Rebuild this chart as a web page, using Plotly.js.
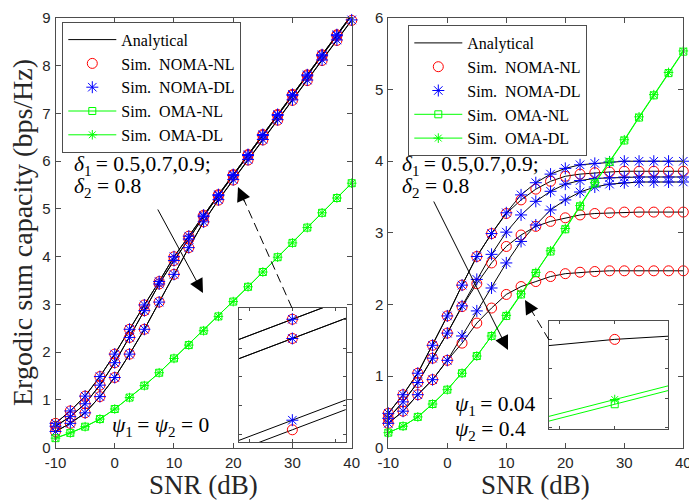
<!DOCTYPE html>
<html>
<head>
<meta charset="utf-8">
<script src="https://cdn.plot.ly/plotly-3.0.1.min.js"></script>
<style>
  html, body { margin: 0; padding: 0; background: #fff; }
  #chart { width: 689px; height: 501px; }
</style>
</head>
<body>
<div id="chart"></div>
<script>
const W = 689, H = 501;

// SNR grid (dB)
const snr = [-10, -7.5, -5, -2.5, 0, 2.5, 5, 7.5, 10, 12.5, 15, 17.5, 20, 22.5, 25, 27.5, 30, 32.5, 35, 37.5, 40];

// Ideal hardware (psi1 = psi2 = 0): ergodic sum capacity, delta2 = 0.8
const idealNL_d05 = [0.51, 0.77, 1.08, 1.49, 1.96, 2.48, 2.99, 3.48, 4.00, 4.43, 4.87, 5.30, 5.72, 6.14, 6.56, 6.98, 7.40, 7.81, 8.23, 8.65, 9.07];
const idealDL_d05 = [0.51, 0.77, 1.08, 1.49, 1.96, 2.48, 2.99, 3.48, 4.00, 4.43, 4.87, 5.30, 5.72, 6.14, 6.56, 6.98, 7.40, 7.81, 8.23, 8.65, 9.07];
const idealNL_d07 = [0.45, 0.65, 0.92, 1.31, 1.78, 2.31, 2.87, 3.43, 3.92, 4.37, 4.84, 5.28, 5.70, 6.12, 6.54, 6.96, 7.38, 7.79, 8.21, 8.63, 9.05];
const idealDL_d07 = [0.45, 0.65, 0.92, 1.31, 1.78, 2.31, 2.87, 3.43, 3.92, 4.37, 4.84, 5.28, 5.70, 6.12, 6.54, 6.96, 7.38, 7.79, 8.21, 8.63, 9.05];
const idealNL_d09 = [0.34, 0.51, 0.73, 1.07, 1.47, 1.96, 2.48, 3.05, 3.63, 4.19, 4.73, 5.185, 5.605, 6.025, 6.445, 6.86, 7.275, 7.69, 8.11, 8.53, 8.95];
const idealDL_d09 = [0.34, 0.51, 0.73, 1.07, 1.47, 1.96, 2.48, 3.05, 3.63, 4.19, 4.73, 5.195, 5.615, 6.035, 6.455, 6.87, 7.285, 7.70, 8.12, 8.54, 8.96];
const idealOmaNL  = [0.20, 0.31, 0.44, 0.60, 0.81, 1.05, 1.30, 1.57, 1.87, 2.15, 2.45, 2.75, 3.06, 3.37, 3.68, 3.99, 4.29, 4.61, 4.92, 5.23, 5.54];
const idealOmaDL  = [0.20, 0.31, 0.44, 0.60, 0.81, 1.05, 1.30, 1.57, 1.87, 2.15, 2.45, 2.75, 3.06, 3.37, 3.68, 3.99, 4.29, 4.61, 4.92, 5.23, 5.54];

// Impaired hardware (psi1 = 0.04, psi2 = 0.4)
const hwiNL_d05 = [0.48, 0.74, 1.04, 1.43, 1.84, 2.27, 2.67, 2.99, 3.27, 3.46, 3.61, 3.72, 3.79, 3.82, 3.84, 3.85, 3.86, 3.86, 3.86, 3.86, 3.86];
const hwiDL_d05 = [0.48, 0.74, 1.04, 1.43, 1.84, 2.27, 2.67, 2.99, 3.28, 3.53, 3.70, 3.82, 3.90, 3.95, 3.97, 3.99, 4.00, 4.00, 4.00, 4.00, 4.00];
const hwiNL_d07 = [0.41, 0.64, 0.91, 1.25, 1.60, 1.97, 2.29, 2.58, 2.81, 2.97, 3.09, 3.16, 3.21, 3.25, 3.27, 3.28, 3.29, 3.29, 3.29, 3.29, 3.29];
const hwiDL_d07 = [0.41, 0.64, 0.91, 1.25, 1.60, 1.98, 2.35, 2.70, 3.01, 3.25, 3.44, 3.58, 3.68, 3.73, 3.76, 3.77, 3.78, 3.78, 3.78, 3.78, 3.78];
const hwiNL_d09 = [0.34, 0.51, 0.74, 0.95, 1.22, 1.46, 1.74, 1.95, 2.14, 2.25, 2.32, 2.39, 2.43, 2.45, 2.46, 2.47, 2.47, 2.47, 2.47, 2.47, 2.47];
const hwiDL_d09 = [0.34, 0.51, 0.74, 0.95, 1.22, 1.56, 1.91, 2.23, 2.58, 2.88, 3.11, 3.32, 3.46, 3.57, 3.64, 3.68, 3.70, 3.71, 3.71, 3.71, 3.71];
const hwiOmaNL  = [0.21, 0.30, 0.43, 0.61, 0.81, 1.04, 1.28, 1.56, 1.84, 2.14, 2.44, 2.74, 3.05, 3.37, 3.69, 3.99, 4.29, 4.61, 4.92, 5.23, 5.53];
const hwiOmaDL  = [0.21, 0.30, 0.43, 0.61, 0.81, 1.04, 1.28, 1.56, 1.848, 2.148, 2.448, 2.75, 3.06, 3.38, 3.70, 4.00, 4.30, 4.62, 4.93, 5.24, 5.54];

// Tick labels
const xTickVals = [-10, 0, 10, 20, 30, 40];
const xTickText = ['-10', '0', '10', '20', '30', '40'];
const yTickValsL = [0, 1, 2, 3, 4, 5, 6, 7, 8, 9];
const yTickValsR = [0, 1, 2, 3, 4, 5, 6];

// Legend labels
const legendNames = ['Analytical', 'Sim.\u2002NOMA-NL', 'Sim.\u2002NOMA-DL', 'Sim.\u2002OMA-NL', 'Sim.\u2002OMA-DL'];

const RED = '#ff0000', BLUE = '#0000ff', GREEN = '#00ff00', BLACK = '#000000';
const AXC = '#4d4d4d', TXT = '#262626';
const SERIF = 'Liberation Serif, Times New Roman, serif';
const SANS = 'Liberation Sans, Arial, sans-serif';

function panelTraces(set, xa, ya, legendId, inLegend) {
  const out = [];
  const noma = [set.nl05, set.dl05, set.nl07, set.dl07, set.nl09, set.dl09];
  noma.forEach((y, i) => out.push({
    x: snr, y: y, xaxis: xa, yaxis: ya, mode: 'lines', type: 'scatter',
    line: { color: BLACK, width: 1 }, name: legendNames[0], legend: legendId,
    showlegend: inLegend && i === 0, hoverinfo: 'skip'
  }));
  [set.nl05, set.nl07, set.nl09].forEach((y, i) => out.push({
    x: snr, y: y, xaxis: xa, yaxis: ya, mode: 'markers', type: 'scatter', cliponaxis: !inLegend,
    marker: { symbol: 'circle-open', size: 10, color: RED, line: { width: 1, color: RED } },
    name: legendNames[1], legend: legendId, showlegend: inLegend && i === 0, hoverinfo: 'skip'
  }));
  [set.dl05, set.dl07, set.dl09].forEach((y, i) => out.push({
    x: snr, y: y, xaxis: xa, yaxis: ya, mode: 'markers', type: 'scatter', cliponaxis: !inLegend,
    marker: { symbol: 'asterisk-open', size: 10, color: BLUE, line: { width: 1, color: BLUE } },
    name: legendNames[2], legend: legendId, showlegend: inLegend && i === 0, hoverinfo: 'skip'
  }));
  out.push({
    x: snr, y: set.omaNL, xaxis: xa, yaxis: ya, mode: 'lines+markers', type: 'scatter', cliponaxis: !inLegend,
    line: { color: GREEN, width: 1 },
    marker: { symbol: 'square-open', size: 7, color: GREEN, line: { width: 1, color: GREEN } },
    name: legendNames[3], legend: legendId, showlegend: inLegend, hoverinfo: 'skip'
  });
  out.push({
    x: snr, y: set.omaDL, xaxis: xa, yaxis: ya, mode: 'lines+markers', type: 'scatter', cliponaxis: !inLegend,
    line: { color: GREEN, width: 1 },
    marker: { symbol: 'asterisk-open', size: 8, color: GREEN, line: { width: 1, color: GREEN } },
    name: legendNames[4], legend: legendId, showlegend: inLegend, hoverinfo: 'skip'
  });
  return out;
}

const ideal = { nl05: idealNL_d05, dl05: idealDL_d05, nl07: idealNL_d07, dl07: idealDL_d07,
                nl09: idealNL_d09, dl09: idealDL_d09, omaNL: idealOmaNL, omaDL: idealOmaDL };
const hwi = { nl05: hwiNL_d05, dl05: hwiDL_d05, nl07: hwiNL_d07, dl07: hwiDL_d07,
              nl09: hwiNL_d09, dl09: hwiDL_d09, omaNL: hwiOmaNL, omaDL: hwiOmaDL };

const data = [].concat(
  panelTraces(ideal, 'x', 'y', 'legend', true),
  panelTraces(hwi, 'x2', 'y2', 'legend2', true),
  panelTraces(ideal, 'x3', 'y3', 'legend', false),
  panelTraces(hwi, 'x4', 'y4', 'legend2', false)
);

// pixel -> paper helpers
const px = v => v / W;
const py = v => 1 - v / H;

const baseAxis = {
  showline: true, linecolor: AXC, linewidth: 1, mirror: 'ticks',
  ticks: 'inside', ticklen: 5, tickcolor: AXC, tickwidth: 1,
  showgrid: false, zeroline: false, fixedrange: true, ticklabeloverflow: 'allow',
  tickfont: { family: SANS, size: 15, color: TXT }
};
const insetAxis = Object.assign({}, baseAxis, { showticklabels: false, ticklen: 3 });
const mainX = Object.assign({}, baseAxis, { range: [-10, 40], tickvals: xTickVals, ticktext: xTickText, ticklabelstandoff: 1 });
const mainYAxis = Object.assign({}, baseAxis, { ticklabelstandoff: 1 });

const mainY = [py(447.7), py(18)];

const legendStyle = {
  xanchor: 'left', yanchor: 'top',
  bgcolor: '#ffffff', bordercolor: AXC, borderwidth: 1,
  font: { family: SERIF, size: 16, color: '#000' }, traceorder: 'normal', itemwidth: 48
};

const layout = {
  width: W, height: H,
  margin: { l: 0, r: 0, t: 0, b: 0 },
  paper_bgcolor: '#ffffff', plot_bgcolor: '#ffffff',
  showlegend: true,
  xaxis: Object.assign({}, mainX, { domain: [px(55.5), px(351.7)], anchor: 'y' }),
  yaxis: Object.assign({}, mainYAxis, { domain: mainY, range: [0, 9], tickvals: yTickValsL, anchor: 'x' }),
  xaxis2: Object.assign({}, mainX, { domain: [px(388.3), px(683.3)], anchor: 'y2' }),
  yaxis2: Object.assign({}, mainYAxis, { domain: mainY, range: [0, 6], tickvals: yTickValsR, anchor: 'x2' }),
  xaxis3: Object.assign({}, insetAxis, { domain: [px(239), px(345.7)], range: [19.875, 20.125], dtick: 0.1, tick0: 20, anchor: 'y3' }),
  yaxis3: Object.assign({}, insetAxis, { domain: [py(442.3), py(307.7)], range: [5.592, 5.732], dtick: 0.03, tick0: 5.6, anchor: 'x3' }),
  xaxis4: Object.assign({}, insetAxis, { domain: [px(549), px(668.3)], range: [12.262, 12.694], dtick: 0.2, tick0: 12.3, anchor: 'y4' }),
  yaxis4: Object.assign({}, insetAxis, { domain: [py(429), py(321)], range: [2.098, 2.2812], dtick: 0.05, tick0: 2.1, anchor: 'x4' }),
  legend: Object.assign({ x: px(62.3), y: py(21.7) }, legendStyle),
  legend2: Object.assign({ x: px(408.3), y: py(25) }, legendStyle),
  shapes: [
    { type: 'line', xref: 'paper', yref: 'paper', x0: px(292), y0: py(308), x1: px(240), y1: py(191),
      line: { color: BLACK, width: 1, dash: '9px,5px' } },
    { type: 'line', xref: 'paper', yref: 'paper', x0: px(549), y0: py(340), x1: px(527), y1: py(303),
      line: { color: BLACK, width: 1, dash: '9px,5px' } }
  ],
  annotations: []
};

const txtFont = { family: SERIF, size: 21.5, color: '#000' };
function label(x, y, text, anchor) {
  return { xref: 'paper', yref: 'paper', x: px(x), y: py(y), text: text, showarrow: false,
           xanchor: anchor || 'left', yanchor: 'middle', font: Object.assign({}, txtFont) };
}
function arrow(hx, hy, tx, ty) {
  return { xref: 'paper', yref: 'paper', x: px(hx), y: py(hy), ax: tx - hx, ay: ty - hy, text: '',
           showarrow: true, arrowhead: 2, arrowsize: 2.8, arrowwidth: 1, arrowcolor: BLACK, standoff: 0 };
}

layout.annotations.push(
  label(72, 165, '<i>δ</i><sub>1</sub>\u2009= 0.5,0.7,0.9;'),
  label(72, 187, '<i>δ</i><sub>2</sub> = 0.8'),
  label(400, 165, '<i>δ</i><sub>1</sub>\u2009= 0.5,0.7,0.9;'),
  label(400, 187, '<i>δ</i><sub>2</sub> = 0.8'),
  label(110, 426, '<i>ψ</i><sub>1</sub>\u2009= <i>ψ</i><sub>2</sub> = 0'),
  label(453, 405, '<i>ψ</i><sub>1</sub>\u2009= 0.04'),
  label(453, 430, '<i>ψ</i><sub>2</sub> = 0.4'),
  arrow(203, 293, 157, 208),
  arrow(508, 350, 433, 200),
  arrow(238, 187, 245, 203),
  arrow(525, 300, 532, 312),
  // axis titles
  { xref: 'paper', yref: 'paper', x: px(203.6), y: py(485), text: 'SNR (dB)', showarrow: false,
    xanchor: 'center', yanchor: 'middle', font: { family: SERIF, size: 27, color: TXT } },
  { xref: 'paper', yref: 'paper', x: px(535.8), y: py(485), text: 'SNR (dB)', showarrow: false,
    xanchor: 'center', yanchor: 'middle', font: { family: SERIF, size: 27, color: TXT } },
  { xref: 'paper', yref: 'paper', x: px(22), y: py(233), text: 'Ergodic sum capacity (bps/Hz)', showarrow: false,
    textangle: -90, xanchor: 'center', yanchor: 'middle', font: { family: SERIF, size: 28, color: TXT } }
);

Plotly.newPlot('chart', data, layout, { staticPlot: true, displayModeBar: false });
</script>
</body>
</html>
